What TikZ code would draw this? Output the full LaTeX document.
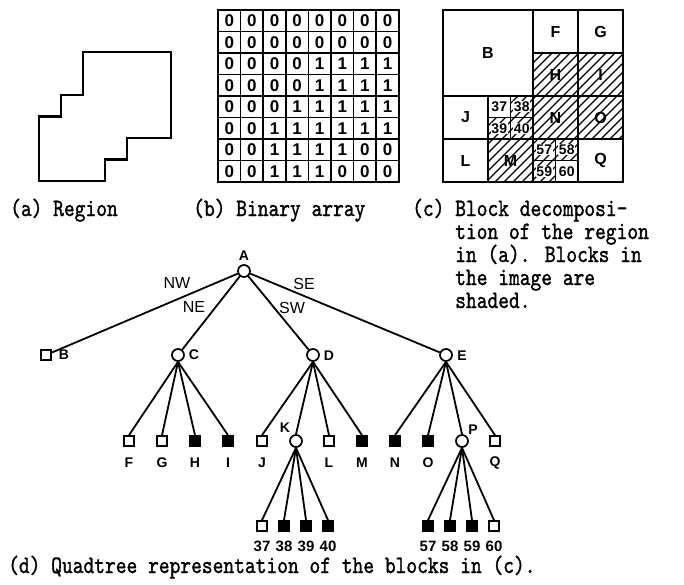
\documentclass[tikz,border=0pt]{standalone}
\usepackage{fontspec}
\newfontfamily\capfont{lmmono10-regular.otf}[FakeStretch=0.82, FakeBold=1.2]
\newfontfamily\lblfont{Liberation Sans}

\tikzset{
  captext/.style={font=\capfont\fontsize{25}{23}\selectfont, inner sep=0pt, anchor=base west},
  bitcell/.style={draw, line width=1.6pt, minimum width=22.6pt, minimum height=21.5pt, inner sep=0pt, font=\lblfont\bfseries\fontsize{17}{17}\selectfont},
  blockline/.style={draw, line width=1.5pt},
  hatchline/.style={line width=1.1pt},
  blocklbl/.style={font=\lblfont\bfseries\fontsize{16}{16}\selectfont, inner sep=0pt},
  blocknum/.style={font=\lblfont\bfseries\fontsize{14}{14}\selectfont, inner sep=0.6pt, fill=white},
  treenode/.style={circle, draw, line width=1.7pt, minimum size=12pt, inner sep=0pt},
  openleaf/.style={rectangle, draw, line width=1.7pt, minimum size=10pt, inner sep=0pt},
  fullleaf/.style={openleaf, fill=black},
  link/.style={line width=1.8pt},
  treelbl/.style={font=\lblfont\bfseries\fontsize{14}{14}\selectfont, inner sep=0pt},
  dirlbl/.style={font=\lblfont\fontsize{16}{16}\selectfont, inner sep=0pt},
}

\begin{document}
\begin{tikzpicture}[x=1pt, y=-1pt]
  \useasboundingbox[fill=white] (0,0) rectangle (684,584);

  % (a) region
  \begin{scope}[shift={(-5,9)}, x=22pt, y=-21.5pt]
    \draw[line width=2.6pt] (4,2) -- (8,2) -- (8,6) -- (6,6) -- (6,7) -- (5,7) -- (5,8)
      -- (2,8) -- (2,5) -- (3,5) -- (3,4) -- (4,4) -- cycle;
  \end{scope}
  \node[captext] (capa) at (10,216) {(a) Region};

  % (b) binary array
  \begin{scope}[shift={(218,10)}, x=22.6pt, y=-21.5pt]
    \foreach \bits [count=\r from 0] in {{0,0,0,0,0,0,0,0}, {0,0,0,0,0,0,0,0},
        {0,0,0,0,1,1,1,1}, {0,0,0,0,1,1,1,1}, {0,0,0,1,1,1,1,1},
        {0,0,1,1,1,1,1,1}, {0,0,1,1,1,1,0,0}, {0,0,1,1,1,0,0,0}}
      \foreach \v [count=\c from 0] in \bits
        \node[bitcell] (b\r\c) at (\c+0.5,\r+0.5) {\v};
  \end{scope}
  \node[captext] (capb) at (193,216) {(b) Binary array};

  % (c) block decomposition
  \begin{scope}[shift={(443,10)}, x=22.5pt, y=-21.5pt]
    \begin{scope}
      \clip (4,2) rectangle (8,6) (2,6) rectangle (4,8) (3,4) rectangle (4,6)
        (2,5) rectangle (3,6) (4,6) rectangle (6,7) (4,7) rectangle (5,8);
      \foreach \s in {-190,-181,...,190}
        \draw[hatchline] (\s pt,-180pt) -- ++(180pt,180pt);
    \end{scope}
    \foreach \xa/\ya/\xb/\yb/\n in {0/0/4/4/B, 4/0/6/2/F, 6/0/8/2/G, 4/2/6/4/H, 6/2/8/4/I,
        0/4/2/6/J, 4/4/6/6/N, 6/4/8/6/O, 0/6/2/8/L, 2/6/4/8/M, 6/6/8/8/Q} {
      \draw[blockline] (\xa,\ya) rectangle (\xb,\yb);
      \node[blocklbl] (c\n) at ({(\xa+\xb)/2},{(\ya+\yb)/2}) {\n};
    }
    \foreach \xa/\ya/\n in {2/4/37, 3/4/38, 2/5/39, 3/5/40, 4/6/57, 5/6/58, 4/7/59, 5/7/60} {
      \draw[blockline] (\xa,\ya) rectangle ++(1,1);
      \node[blocknum] (c\n) at (\xa+0.5,\ya+0.5) {\n};
    }
  \end{scope}
  \node[captext] (capc) at (412,216) {(c) Block decomposi-};
  \foreach \t [count=\i] in {tion of the region, in (a). Blocks in, the image are, shaded.}
    \node[captext] (capc\i) at (455,216+23*\i) {\t};

  % (d) quadtree
  \node[treenode] (A) at (244,271) {};
  \node[openleaf] (B) at (46,355) {};
  \node[treenode] (C) at (178,355) {};
  \node[treenode] (D) at (313,355) {};
  \node[treenode] (E) at (446,355) {};
  \foreach \n/\x/\s in {F/129/openleaf, G/162/openleaf, H/195/fullleaf, I/228/fullleaf,
      J/262/openleaf, K/296/treenode, L/329/openleaf, M/362/fullleaf,
      N/395/fullleaf, O/428/fullleaf, P/462/treenode, Q/495/openleaf}
    \node[\s] (\n) at (\x,441) {};
  \foreach \n/\x/\s in {37/262/openleaf, 38/284/fullleaf, 39/306/fullleaf, 40/328/fullleaf,
      57/428/fullleaf, 58/450/fullleaf, 59/472/fullleaf, 60/494/openleaf}
    \node[\s] (q\n) at (\x,526) {};

  \foreach \c in {B, C, D, E}
    \draw[link] (A) -- (\c);
  \foreach \p/\c in {C/F, C/G, C/H, C/I, D/J, D/K, D/L, D/M, E/N, E/O, E/P, E/Q,
      K/q37, K/q38, K/q39, K/q40, P/q57, P/q58, P/q59, P/q60}
    \draw[link] (\p.south) -- (\c.north);

  % labels
  \node[treelbl] (lA) at (244,256) {A};
  \node[treelbl] (lB) at (64,355) {B};
  \node[treelbl] (lC) at (194,355) {C};
  \node[treelbl] (lD) at (329,356) {D};
  \node[treelbl] (lE) at (462,356) {E};
  \node[treelbl] (lK) at (285,428) {K};
  \node[treelbl] (lP) at (473,430) {P};
  \foreach \n/\x in {F/129, G/162, H/195, I/228, J/262, L/329, M/362, N/395, O/428, Q/495}
    \node[treelbl] (l\n) at (\x,463) {\n};
  \foreach \n/\x in {37/262, 38/284, 39/306, 40/328, 57/428, 58/450, 59/472, 60/494}
    \node[dirlbl, font=\lblfont\bfseries\fontsize{15}{15}\selectfont] (l\n) at (\x,546) {\n};
  \node[dirlbl] (nw) at (177,283) {NW};
  \node[dirlbl] (ne) at (194,307) {NE};
  \node[dirlbl] (se) at (304,284) {SE};
  \node[dirlbl] (sw) at (292,308) {SW};

  \node[captext] (capd) at (8,573) {(d) Quadtree representation of the blocks in (c).};
\end{tikzpicture}
\end{document}
